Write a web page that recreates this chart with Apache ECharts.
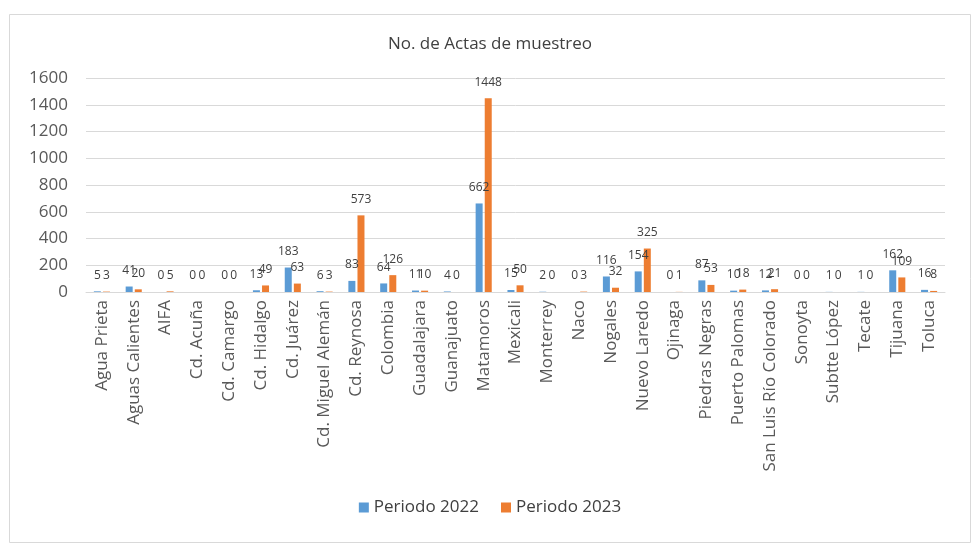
<!DOCTYPE html>
<html>
<head>
<meta charset="utf-8">
<script src="https://cdn.jsdelivr.net/npm/echarts@6/dist/echarts.min.js"></script>
<style>html,body{margin:0;padding:0;background:#fff}#c{width:980px;height:549px}</style>
</head>
<body>
<div id="c"></div>
<script>
const categories = ["Agua Prieta","Aguas Calientes","AIFA","Cd. Acuña","Cd. Camargo","Cd. Hidalgo","Cd. Juárez","Cd. Miguel Alemán","Cd. Reynosa","Colombia","Guadalajara","Guanajuato","Matamoros","Mexicali","Monterrey","Naco","Nogales","Nuevo Laredo","Ojinaga","Piedras Negras","Puerto Palomas","San Luis Río Colorado","Sonoyta","Subtte López","Tecate","Tijuana","Toluca"];
const periodo2022 = [5,41,0,0,0,13,183,6,83,64,11,4,662,15,2,0,116,154,0,87,10,12,0,1,1,162,16];
const periodo2023 = [3,20,5,0,0,49,63,3,573,126,10,0,1448,50,0,3,32,325,1,53,18,21,0,0,0,109,8];
const yTicks = {min:0, max:1600, interval:200};

const chart = echarts.init(document.getElementById('c'));
const font = "'Open Sans', 'Liberation Sans', sans-serif";
const lbl = {show:true, position:'top', distance:10, fontSize:12, color:'#404040', fontFamily:font};
chart.setOption({
  animation:false,
  backgroundColor:'#fff',
  graphic:[{type:'rect', left:7, top:12, shape:{width:961, height:528}, style:{fill:'none', stroke:'#d9d9d9', lineWidth:1}, silent:true, z:-1}],
  title:{text:'No. de Actas de muestreo', left:'center', top:31, textStyle:{fontSize:17, fontWeight:'normal', color:'#404040', fontFamily:font}},
  legend:{top:494, left:'center', itemWidth:10, itemHeight:10, itemGap:22, icon:'rect',
    textStyle:{fontSize:17, color:'#404040', fontFamily:font}, data:['Periodo 2022','Periodo 2023']},
  grid:{left:86, right:35, top:78, bottom:257, containLabel:false},
  xAxis:{type:'category', data:categories,
    axisLine:{lineStyle:{color:'#d9d9d9'}}, axisTick:{show:false},
    axisLabel:{rotate:90, interval:0, margin:8, fontSize:17, color:'#595959', fontFamily:font}},
  yAxis:{type:'value', min:yTicks.min, max:yTicks.max, interval:yTicks.interval,
    axisLine:{show:false}, axisTick:{show:false},
    splitLine:{lineStyle:{color:'#d9d9d9', width:1}},
    axisLabel:{fontSize:17, color:'#595959', margin:18, fontFamily:font, formatter: v => String(v)}},
  series:[
    {name:'Periodo 2022', type:'bar', data:periodo2022, barWidth:7, barGap:'30%', itemStyle:{color:'#5B9BD5'}, label:lbl},
    {name:'Periodo 2023', type:'bar', data:periodo2023, barWidth:7, barGap:'30%', itemStyle:{color:'#ED7D31'}, label:lbl}
  ]
});
</script>
</body>
</html>
